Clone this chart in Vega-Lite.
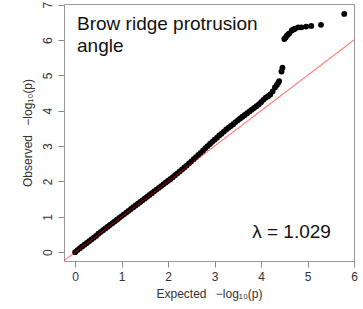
{
  "$schema": "https://vega.github.io/schema/vega-lite/v6.json",
  "autosize": "none",
  "padding": {"left": 64, "top": 4, "right": 9, "bottom": 48},
  "width": 290,
  "height": 257,
  "background": "white",
  "config": {
    "view": {"stroke": "#999999", "strokeWidth": 1},
    "font": "Liberation Sans",
    "axis": {
      "domain": false,
      "grid": false,
      "tickColor": "#888888",
      "tickSize": 6,
      "labelFont": "Liberation Sans",
      "labelFontSize": 12,
      "labelColor": "#333333",
      "titleFont": "Liberation Sans",
      "titleFontSize": 12,
      "titleFontWeight": "normal",
      "titleColor": "#333333"
    }
  },
  "datasets": {
    "qq": [
      {"e": 0.0, "o": 0.0}, {"e": 0.05, "o": 0.06}, {"e": 0.1, "o": 0.11}, {"e": 0.15, "o": 0.16},
      {"e": 0.2, "o": 0.21}, {"e": 0.25, "o": 0.26}, {"e": 0.3, "o": 0.31}, {"e": 0.35, "o": 0.36},
      {"e": 0.4, "o": 0.41}, {"e": 0.45, "o": 0.46}, {"e": 0.5, "o": 0.52}, {"e": 0.55, "o": 0.57},
      {"e": 0.6, "o": 0.62}, {"e": 0.65, "o": 0.67}, {"e": 0.7, "o": 0.72}, {"e": 0.75, "o": 0.77},
      {"e": 0.8, "o": 0.82}, {"e": 0.85, "o": 0.87}, {"e": 0.9, "o": 0.92}, {"e": 0.95, "o": 0.97},
      {"e": 1.0, "o": 1.02}, {"e": 1.05, "o": 1.07}, {"e": 1.1, "o": 1.12}, {"e": 1.15, "o": 1.17},
      {"e": 1.2, "o": 1.22}, {"e": 1.25, "o": 1.27}, {"e": 1.3, "o": 1.32}, {"e": 1.35, "o": 1.37},
      {"e": 1.4, "o": 1.42}, {"e": 1.45, "o": 1.47}, {"e": 1.5, "o": 1.52}, {"e": 1.55, "o": 1.57},
      {"e": 1.6, "o": 1.62}, {"e": 1.65, "o": 1.67}, {"e": 1.7, "o": 1.72}, {"e": 1.75, "o": 1.77},
      {"e": 1.8, "o": 1.82}, {"e": 1.85, "o": 1.87}, {"e": 1.9, "o": 1.92}, {"e": 1.95, "o": 1.97},
      {"e": 2.0, "o": 2.02}, {"e": 2.05, "o": 2.07}, {"e": 2.1, "o": 2.12}, {"e": 2.15, "o": 2.175},
      {"e": 2.2, "o": 2.23}, {"e": 2.25, "o": 2.285}, {"e": 2.3, "o": 2.34}, {"e": 2.35, "o": 2.395},
      {"e": 2.4, "o": 2.45}, {"e": 2.45, "o": 2.51}, {"e": 2.5, "o": 2.57}, {"e": 2.55, "o": 2.63},
      {"e": 2.6, "o": 2.69}, {"e": 2.65, "o": 2.75}, {"e": 2.7, "o": 2.81}, {"e": 2.75, "o": 2.87},
      {"e": 2.8, "o": 2.94}, {"e": 2.85, "o": 3.0}, {"e": 2.9, "o": 3.06}, {"e": 2.95, "o": 3.12},
      {"e": 3.0, "o": 3.18}, {"e": 3.05, "o": 3.24}, {"e": 3.1, "o": 3.3}, {"e": 3.15, "o": 3.35},
      {"e": 3.2, "o": 3.41}, {"e": 3.25, "o": 3.47}, {"e": 3.3, "o": 3.52}, {"e": 3.35, "o": 3.57},
      {"e": 3.4, "o": 3.62}, {"e": 3.45, "o": 3.68}, {"e": 3.5, "o": 3.73}, {"e": 3.55, "o": 3.78},
      {"e": 3.6, "o": 3.83}, {"e": 3.65, "o": 3.88}, {"e": 3.7, "o": 3.93}, {"e": 3.75, "o": 3.98},
      {"e": 3.8, "o": 4.03}, {"e": 3.85, "o": 4.08}, {"e": 3.9, "o": 4.13}, {"e": 3.95, "o": 4.18},
      {"e": 4.0, "o": 4.24}, {"e": 4.05, "o": 4.31}, {"e": 4.1, "o": 4.37}, {"e": 4.15, "o": 4.41},
      {"e": 4.2, "o": 4.46}, {"e": 4.25, "o": 4.55}, {"e": 4.3, "o": 4.66}, {"e": 4.34, "o": 4.73},
      {"e": 4.37, "o": 4.79}, {"e": 4.39, "o": 4.84}, {"e": 4.44, "o": 5.11}, {"e": 4.46, "o": 5.22},
      {"e": 4.5, "o": 6.03}, {"e": 4.53, "o": 6.07}, {"e": 4.55, "o": 6.12}, {"e": 4.58, "o": 6.16},
      {"e": 4.61, "o": 6.19}, {"e": 4.66, "o": 6.27}, {"e": 4.7, "o": 6.3}, {"e": 4.73, "o": 6.32},
      {"e": 4.8, "o": 6.36}, {"e": 4.87, "o": 6.36}, {"e": 4.97, "o": 6.38}, {"e": 5.08, "o": 6.4},
      {"e": 5.29, "o": 6.43}, {"e": 5.79, "o": 6.74}
    ],
    "diag": [{"e": -0.5, "o": -0.5}, {"e": 6.5, "o": 6.5}],
    "labels": [
      {"e": 0.04, "o": 6.29, "t": ["Brow ridge protrusion", "angle"]},
      {"e": 3.81, "o": 0.4, "t": "λ = 1.029"}
    ]
  },
  "encoding": {
    "x": {
      "field": "e", "type": "quantitative",
      "scale": {"domain": [-0.24, 6.0], "nice": false, "zero": false},
      "axis": {"values": [0, 1, 2, 3, 4, 5, 6], "title": "Expected \u2002−log₁₀(p)", "labelPadding": 4, "titlePadding": 6, "labelFlush": false}
    },
    "y": {
      "field": "o", "type": "quantitative",
      "scale": {"domain": [-0.25, 7.02], "nice": false, "zero": false},
      "axis": {"values": [0, 1, 2, 3, 4, 5, 6, 7], "title": "Observed \u2002−log₁₀(p)", "labelAngle": 270, "labelAlign": "center", "labelBaseline": "bottom", "labelPadding": 4, "titlePadding": 7, "labelFlush": false}
    }
  },
  "layer": [
    {
      "data": {"name": "qq"},
      "mark": {"type": "circle", "color": "black", "opacity": 1, "size": 34}
    },
    {
      "data": {"name": "diag"},
      "mark": {"type": "line", "color": "#ff0000", "opacity": 0.5, "strokeWidth": 1.2, "clip": true}
    },
    {
      "data": {"name": "labels"},
      "mark": {"type": "text", "align": "left", "baseline": "alphabetic", "fontSize": 19, "lineHeight": 22, "color": "#111111", "font": "Liberation Sans"},
      "encoding": {"text": {"field": "t"}}
    }
  ]
}
